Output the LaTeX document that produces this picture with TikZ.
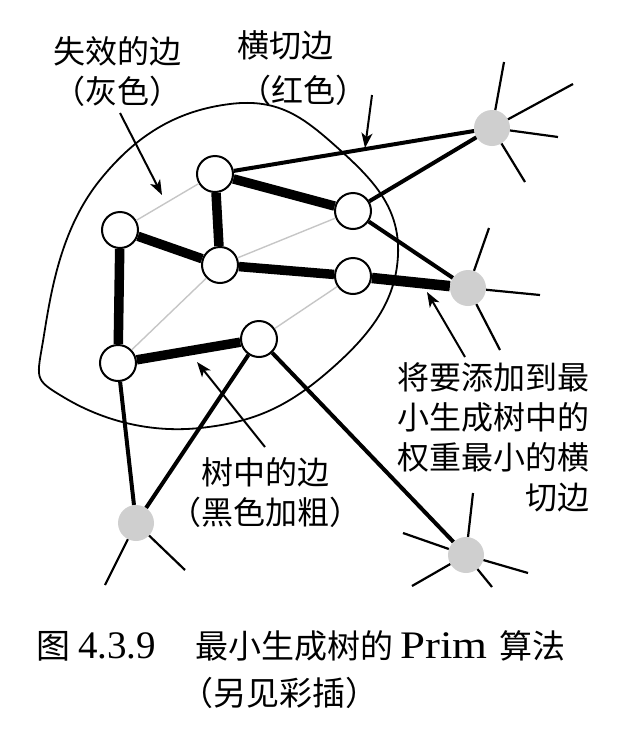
\documentclass[tikz,border=0pt]{standalone}
\usepackage{fontspec}
\setmainfont{Liberation Serif}
\newfontfamily\cjk{Noto Sans CJK SC}
\usepackage{tikz}
\usetikzlibrary{arrows.meta}

\begin{document}
\begin{tikzpicture}[x=1pt, y=-1pt,
    knoten/.style={circle, draw, line width=2pt, fill=white, minimum size=36pt, inner sep=0pt},
    aussen/.style={circle, fill=gray!38, minimum size=36pt, inner sep=0pt},
    baum/.style={line width=9.5pt},
    grau/.style={line width=1.4pt, gray!45},
    schnitt/.style={line width=4pt},
    strahl/.style={line width=2.2pt},
    pfeil/.style={line width=2pt, -{Stealth[length=15pt, width=11pt, inset=4pt]}},
    lbl/.style={font=\cjk\fontsize{32}{40}\selectfont, inner sep=0pt, align=center}]

    \useasboundingbox (0,0) rectangle (628,734);

    % Schnittmenge (Umriss)
    \draw[line width=1.8pt] plot[smooth cycle, tension=0.75] coordinates
        {(44,335) (100,180) (230,104) (340,150) (398,255) (330,370) (200,428) (65,398)};

    % Knoten im Baum
    \node (vA) at (120,230) [knoten] {};
    \node (vB) at (215,174) [knoten] {};
    \node (vC) at (220,265) [knoten] {};
    \node (vD) at (353,211) [knoten] {};
    \node (vE) at (353,276) [knoten] {};
    \node (vF) at (118,363) [knoten] {};
    \node (vG) at (259,339) [knoten] {};

    % Knoten ausserhalb
    \node (out1) at (492,128) [aussen] {};
    \node (out2) at (468,288) [aussen] {};
    \node (out3) at (136,523) [aussen] {};
    \node (out4) at (466,555) [aussen] {};

    % Strahlen der aeusseren Knoten
    \foreach \x/\y [count=\i] in {504/62, 573/84, 558/137, 525/182} {
        \coordinate (s1\i) at (\x,\y);
        \draw[strahl] (out1) -- (s1\i);
    }
    \foreach \x/\y [count=\i] in {489/228, 540/295, 500/350} {
        \coordinate (s2\i) at (\x,\y);
        \draw[strahl] (out2) -- (s2\i);
    }
    \foreach \x/\y [count=\i] in {105/585, 185/570} {
        \coordinate (s3\i) at (\x,\y);
        \draw[strahl] (out3) -- (s3\i);
    }
    \foreach \x/\y [count=\i] in {473/493, 403/533, 528/573, 412/586, 492/587} {
        \coordinate (s4\i) at (\x,\y);
        \draw[strahl] (out4) -- (s4\i);
    }

    % Kanten
    \draw[grau] (vA) -- (vB);
    \draw[grau] (vC) -- (vD);
    \draw[grau] (vF) -- (vC);
    \draw[grau] (vG) -- (vE);
    \draw[baum] (vA) -- (vC);
    \draw[baum] (vB) -- (vC);
    \draw[baum] (vB) -- (vD);
    \draw[baum] (vC) -- (vE);
    \draw[baum] (vA) -- (vF);
    \draw[baum] (vF) -- (vG);
    \draw[schnitt] (vB) -- (out1);
    \draw[schnitt] (vD) -- (out1);
    \draw[schnitt] (vD) -- (out2);
    \draw[schnitt] (vF) -- (out3);
    \draw[schnitt] (vG) -- (out3);
    \draw[schnitt] (vG) -- (out4);
    \draw[line width=10.5pt] (vE) -- (out2);

    % Beschriftungen
    \node (lblGrau) at (117,72) [lbl] {失效的边\\（灰色）};
    \node (lblSchnitt) at (285,45) [lbl] {横切边};
    \node (lblRot) at (303,90) [lbl] {（红色）};
    \node (lblMin) at (590,437) [lbl, align=right, anchor=east] {将要添加到最\\小生成树中的\\权重最小的横\\切边};
    \node (lblBaum) at (265,493) [lbl] {树中的边\\（黑色加粗）};

    % Pfeile
    \coordinate (p1a) at (120,113); \coordinate (p1b) at (162,195);
    \coordinate (p2a) at (372,95);  \coordinate (p2b) at (365,148);
    \coordinate (p3a) at (465,357); \coordinate (p3b) at (427,292);
    \coordinate (p4a) at (265,447); \coordinate (p4b) at (197,362);
    \draw[pfeil] (p1a) -- (p1b);
    \draw[pfeil] (p2a) -- (p2b);
    \draw[pfeil] (p3a) -- (p3b);
    \draw[pfeil] (p4a) -- (p4b);

    % Bildunterschrift
    \node (capNr) at (36,646) [anchor=west, inner sep=0pt, font=\fontsize{39}{40}\selectfont] {{\cjk\fontsize{34}{40}\selectfont 图}\hspace{8pt}4.3.9};
    \node (capText) at (195,646) [anchor=west, inner sep=0pt, font=\fontsize{39}{40}\selectfont] {{\cjk\fontsize{33}{40}\selectfont 最小生成树的}\hspace{7pt}\scalebox{1.15}[1]{Prim}\hspace{12pt}{\cjk\fontsize{33}{40}\selectfont 算法}};
    \node (capNote) at (180,693) [anchor=west, inner sep=0pt, font=\cjk\fontsize{33}{40}\selectfont] {（另见彩插）};

\end{tikzpicture}
\end{document}
